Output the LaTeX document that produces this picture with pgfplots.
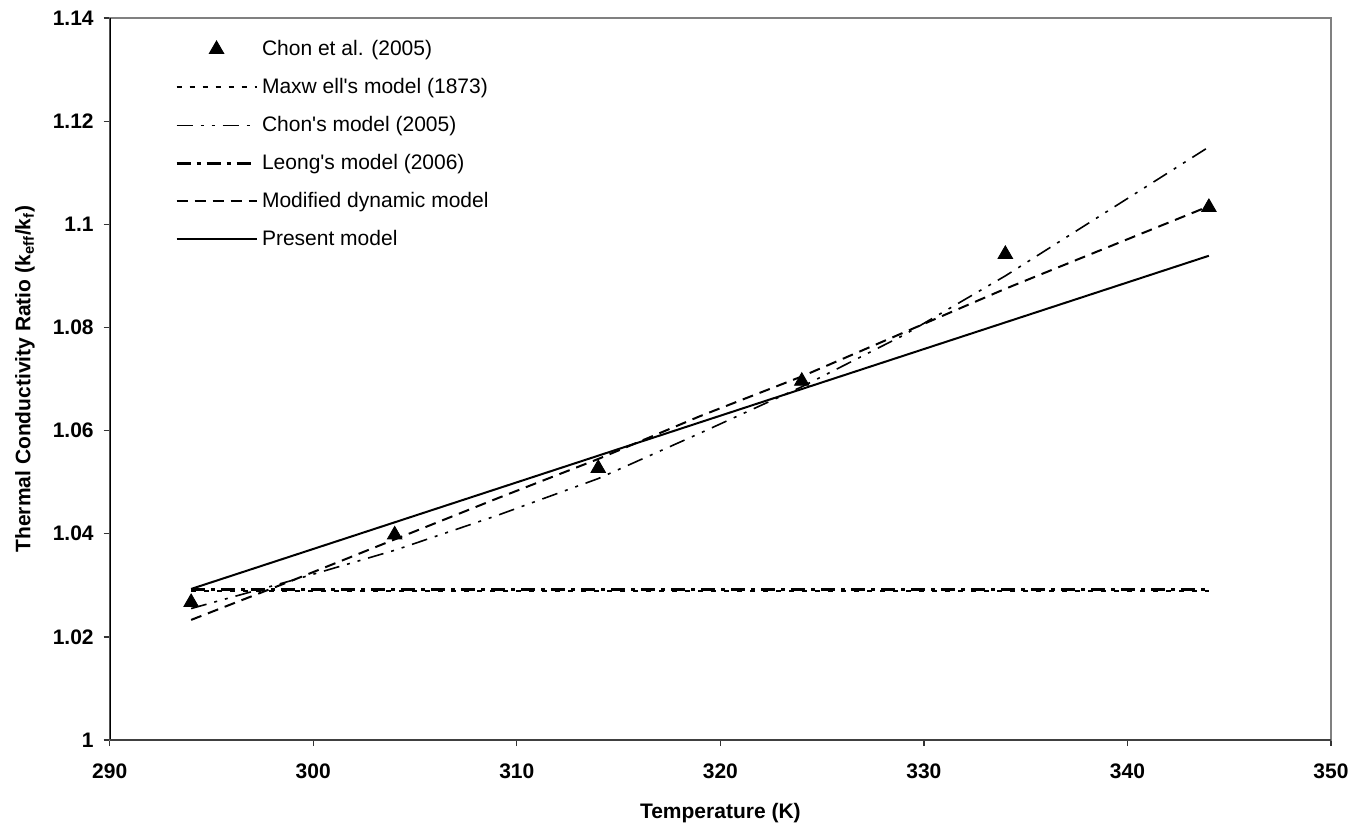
\documentclass[border=0pt]{standalone}
\usepackage{fontspec}
\setmainfont{Liberation Sans}
\usepackage{pgfplots}
\pgfplotsset{compat=1.18}
\usetikzlibrary{calc}
\begin{document}
\begin{tikzpicture}
\begin{axis}[
  name=ax,
  scale only axis,
  width=610.6pt, height=361pt,
  xmin=290, xmax=350, ymin=1, ymax=1.14,
  xtick={290,300,...,350},
  ytick={1,1.02,1.04,1.06,1.08,1.1,1.12,1.14},
  yticklabels={1,1.02,1.04,1.06,1.08,1.1,1.12,1.14},
  tick align=outside,
  major tick length=3pt,
  xtick pos=bottom, ytick pos=left,
  tick style={black!80, line width=0.6pt},
  axis line style={draw=black!50, line width=0.8pt},
  /pgf/number format/assume math mode=true,
  ticklabel style={font=\fontsize{10.5}{12}\selectfont\bfseries},
  xticklabel style={yshift=-5.5pt},
  yticklabel style={xshift=-1.5pt},
  xlabel={Temperature (K)},
  ylabel={Thermal Conductivity Ratio (k\textsubscript{eff}/k\textsubscript{f})},
  label style={font=\fontsize{10.5}{12}\selectfont\bfseries},
  xlabel style={at={(axis description cs:0.5,-0.108)}, anchor=base},
  ylabel style={at={(axis description cs:-0.0693,0.5)}, anchor=center},
  legend style={draw=none, fill=none, inner sep=0pt, outer sep=0pt,
    at={(axis description cs:0.0535,0.976)}, anchor=north west,
    font=\fontsize{10.5}{12}\selectfont, row sep=5pt,
    nodes={text height=8pt, text depth=2pt, inner sep=2pt}},
  legend cell align=left,
  legend image code/.code={\draw[mark repeat=2,mark phase=2,#1] plot coordinates {(0pt,0pt) (20pt,0pt) (40pt,0pt)};},
]
\addplot[only marks, mark=triangle*, mark size=4.2pt, black] coordinates {
  (294,1.0267) (304,1.0398) (314,1.0527) (324,1.0696) (334,1.0942) (344,1.1033)};
\addlegendentry{Chon et al. (2005)}
\addplot[black, line width=1pt, dash pattern=on 2.5pt off 4pt] coordinates {
  (294,1.029) (344,1.029)};
\addlegendentry{Maxw ell\textquotesingle s model (1873)}
\addplot[black, line width=0.8pt, dash pattern=on 8pt off 4pt on 1.5pt off 4pt on 1.5pt off 4pt] coordinates {
  (294,1.0255) (299,1.0310) (304,1.0368) (309,1.0435) (314,1.0507) (319,1.0595)
  (324,1.0685) (329,1.0785) (334,1.0900) (339,1.1025) (344,1.1150)};
\addlegendentry{Chon\textquotesingle s model (2005)}
\addplot[black, line width=1.5pt, dash pattern=on 7pt off 3pt on 2pt off 3pt] coordinates {
  (294,1.0291) (344,1.0291)};
\addlegendentry{Leong\textquotesingle s model (2006)}
\addplot[black, line width=1pt, dash pattern=on 5.5pt off 3.5pt] coordinates {
  (294,1.0233) (299,1.0310) (304,1.0389) (309,1.0468) (314,1.0545) (319,1.0628)
  (324,1.0705) (329,1.0790) (334,1.0875) (339,1.0955) (344,1.1035)};
\addlegendentry{Modified dynamic model}
\addplot[black, line width=1pt] coordinates {(294,1.0293) (344,1.0939)};
\addlegendentry{Present model}
\draw[black, line width=0.8pt] (rel axis cs:0,0) -- (rel axis cs:0,1);
\draw[black!75, line width=1pt] (rel axis cs:0,0) -- (rel axis cs:1,0);
\end{axis}
\pgfresetboundingbox
\path ($(ax.south west)+(-54.85pt,-45.5pt)$) rectangle ($(ax.north east)+(11.5pt,9pt)$);
\end{tikzpicture}
\end{document}
